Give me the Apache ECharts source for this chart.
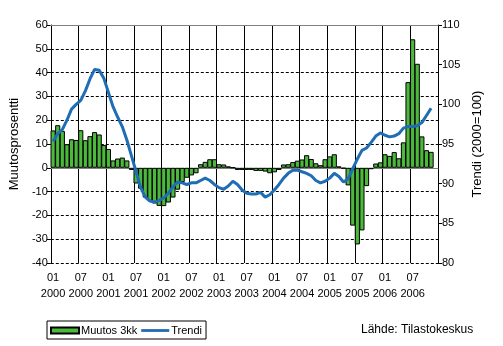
<!DOCTYPE html>
<html>
<head>
<meta charset="utf-8">
<script src="https://cdn.jsdelivr.net/npm/echarts@6/dist/echarts.min.js"></script>
<style>
  html, body { margin: 0; padding: 0; background: #fff; }
  #chart { width: 503px; height: 346px; }
</style>
</head>
<body>
<div id="chart"></div>
<script>
// Monthly series, January 2000 to December 2006
const years = [2000, 2001, 2002, 2003, 2004, 2005, 2006];
const months = ['01', '02', '03', '04', '05', '06', '07', '08', '09', '10', '11', '12'];

// Muutos 3kk (%), one value per month; December 2006 not yet published
const change3m = [
  15.7, 17.9, 15.5, 9.9, 12.0, 11.7, 15.8, 11.6, 13.3, 15.0, 14.0, 9.6,
  7.9, 3.1, 3.9, 4.3, 3.1, -0.9, -6.6, -8.8, -12.5, -13.9, -15.0, -16.0,
  -16.1, -14.6, -12.5, -9.2, -6.0, -4.2, -3.2, -2.3, 1.5, 2.5, 3.6, 3.6,
  1.5, 1.4, 0.6, 0.1, -0.9, -0.9, -0.9, -0.9, -1.3, -1.3, -1.6, -2.3,
  -1.9, -0.9, 1.4, 1.5, 2.4, 3.0, 3.5, 5.3, 3.7, 1.9, 1.1, 3.6,
  4.8, 5.7, 0.6, -0.3, -7.4, -24.3, -32.2, -26.3, -7.7, -0.6, 1.8, 2.3,
  5.7, 5.0, 6.6, 4.0, 10.7, 36.0, 54.0, 43.7, 13.2, 7.4, 6.7
];

// Trendi (2000=100)
const trend = [
  95.3, 96.3, 96.8, 98.0, 99.4, 100.0, 100.5, 101.7, 103.2, 104.4, 104.3, 103.3,
  101.5, 99.7, 98.4, 97.2, 95.5, 93.5, 91.5, 89.5, 88.3, 87.8, 87.7, 87.9,
  88.2, 88.8, 89.6, 90.2, 90.1, 89.9, 90.1, 90.1, 90.4, 90.7, 90.4, 89.9,
  89.5, 89.3, 89.7, 90.3, 89.9, 89.2, 88.8, 88.7, 88.7, 88.9, 88.3, 88.6,
  89.2, 89.9, 90.7, 91.3, 91.7, 91.7, 91.5, 91.3, 91.0, 90.4, 90.1, 90.3,
  90.7, 91.3, 90.9, 90.2, 90.6, 91.9, 93.1, 94.2, 94.5, 95.2, 96.0, 96.4,
  96.1, 95.9, 96.0, 96.3, 97.0, 97.2, 97.2, 97.3, 97.7, 98.6, 99.5
];

// Category keys "MM\nYYYY"; every sixth one is shown as a tick label
const categories = [];
years.forEach(y => months.forEach(m => categories.push(m + '\n' + y)));

const FONT = '"Liberation Sans", Arial, sans-serif';
const BAR_GREEN = '#4cb83c';
const LINE_BLUE = '#1f6db4';

const chart = echarts.init(document.getElementById('chart'), null, { renderer: 'canvas' });

chart.setOption({
  animation: false,
  textStyle: { fontFamily: FONT, color: '#000' },
  grid: { left: 46, right: 65, top: 25, bottom: 83, containLabel: false },
  legend: {
    left: 47,
    top: 321,
    orient: 'horizontal',
    itemWidth: 28,
    itemHeight: 6,
    itemGap: 4,
    padding: [4, 4, 3, 3],
    borderColor: '#000',
    borderWidth: 1,
    borderRadius: 0,
    symbolKeepAspect: true,
    textStyle: { fontFamily: FONT, fontSize: 11, color: '#000', padding: [0, 0, 0, -3] },
    data: [
      { name: 'Muutos 3kk', icon: 'rect' },
      { name: 'Trendi', icon: 'path://M0,0H30V3H0Z', itemStyle: { color: LINE_BLUE, borderWidth: 0 } }
    ]
  },
  title: {
    text: 'Lähde: Tilastokeskus',
    left: 361,
    top: 324,
    padding: 0,
    textStyle: { fontFamily: FONT, fontSize: 12, fontWeight: 'normal', color: '#000' }
  },
  xAxis: [
    {
      type: 'category',
      data: categories,
      boundaryGap: true,
      axisLine: { show: true, lineStyle: { color: '#808080', width: 1 } },
      axisTick: { show: false },
      axisLabel: {
        interval: 5,
        fontFamily: FONT,
        fontSize: 11,
        color: '#000',
        lineHeight: 16,
        margin: 7
      },
      splitLine: { show: true, interval: 5, lineStyle: { color: '#000', width: 1 } }
    },
    {
      type: 'category',
      data: categories,
      position: 'top',
      z: 5,
      axisLine: { show: true, lineStyle: { color: '#808080', width: 1 } },
      axisTick: { show: false },
      axisLabel: { show: false },
      splitLine: { show: false }
    }
  ],
  yAxis: [
    {
      type: 'value',
      min: -40,
      max: 60,
      interval: 10,
      position: 'left',
      name: 'Muutosprosentti',
      nameLocation: 'middle',
      nameRotate: 90,
      nameGap: 26,
      nameTextStyle: { fontFamily: FONT, fontSize: 13, color: '#000' },
      axisLine: { show: true, lineStyle: { color: '#000', width: 1 } },
      axisTick: { show: true, length: 4, lineStyle: { color: '#000' } },
      axisLabel: { fontFamily: FONT, fontSize: 11, color: '#000', margin: 3 },
      splitLine: { show: true, lineStyle: { color: '#000', width: 1, type: [3, 2] } }
    },
    {
      type: 'value',
      min: 80,
      max: 110,
      interval: 5,
      position: 'right',
      name: 'Trendi (2000=100)',
      nameLocation: 'middle',
      nameRotate: 90,
      nameGap: 32,
      nameTextStyle: { fontFamily: FONT, fontSize: 13, color: '#000' },
      axisLine: { show: true, lineStyle: { color: '#000', width: 1 } },
      axisTick: { show: true, length: 4, lineStyle: { color: '#000' } },
      axisLabel: { fontFamily: FONT, fontSize: 11, color: '#000', margin: 4 },
      splitLine: { show: false }
    }
  ],
  series: [
    {
      name: 'Muutos 3kk',
      type: 'bar',
      xAxisIndex: 0,
      yAxisIndex: 0,
      data: change3m,
      barWidth: '112%',
      itemStyle: { color: BAR_GREEN, borderColor: '#000', borderWidth: 1 },
      z: 2
    },
    {
      name: 'Trendi',
      type: 'line',
      xAxisIndex: 0,
      yAxisIndex: 1,
      data: trend,
      symbol: 'none',
      showSymbol: false,
      smooth: false,
      lineStyle: { color: LINE_BLUE, width: 3 },
      itemStyle: { color: LINE_BLUE },
      z: 3
    }
  ]
});
</script>
</body>
</html>
